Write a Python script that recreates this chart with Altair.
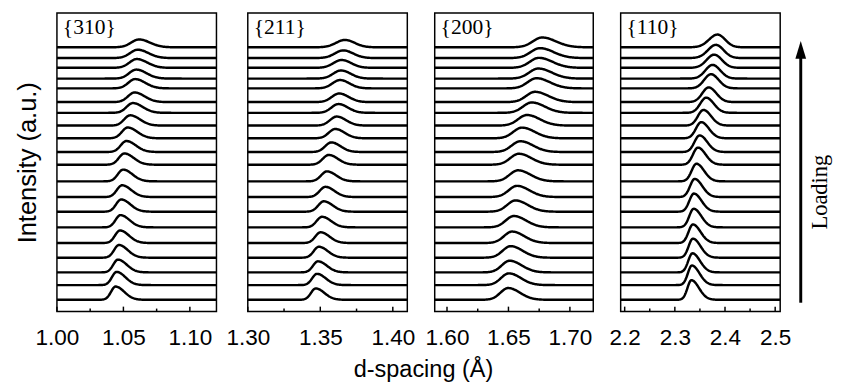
import altair as alt
import numpy as np
import pandas as pd

SANS = "Liberation Sans"
SERIF = "Liberation Serif"
H = 305

# vertical offset of each pattern (bottom -> top), in arbitrary intensity units
offsets = [12, 27, 40, 55, 70, 86, 102, 117, 133, 150, 163, 177, 190, 203, 214, 228, 238, 249, 259, 270]

# {310}
c310 = [1.0441, 1.0449, 1.0459, 1.0466, 1.0474, 1.0478, 1.0483, 1.0490, 1.0498, 1.0507,
        1.0522, 1.0532, 1.0551, 1.0571, 1.0584, 1.0588, 1.0596, 1.0601, 1.0608, 1.0618]
h310 = [13.5, 13.5, 13.0, 13.0, 12.8, 12.5, 12.5, 12.0, 12.0, 11.5,
        11.2, 11.0, 10.5, 10.0, 9.8, 9.5, 9.2, 9.0, 8.5, 8.0]
wl310 = [.0034, .0035, .0035, .0036, .0037, .0037, .0038, .0039, .0040, .0041,
         .0042, .0043, .0045, .0047, .0049, .0051, .0053, .0055, .0057, .0059]
wr310 = [.0065, .0065, .0066, .0066, .0067, .0067, .0068, .0068, .0069, .0070,
         .0071, .0072, .0073, .0074, .0075, .0076, .0077, .0078, .0079, .0081]

# {211}
c211 = [1.3468, 1.3477, 1.3484, 1.3490, 1.3502, 1.3512, 1.3524, 1.3535, 1.3546, 1.3558,
        1.3576, 1.3603, 1.3613, 1.3625, 1.3630, 1.3636, 1.3643, 1.3647, 1.3659, 1.3670]
h211 = [11.6, 11.5, 11.3, 11.2, 11.0, 10.8, 10.6, 10.4, 10.2, 10.0,
        9.8, 9.5, 9.2, 9.0, 8.8, 8.5, 8.3, 8.0, 7.8, 7.5]
wl211 = [.0032, .0033, .0034, .0035, .0036, .0037, .0038, .0039, .0040, .0041,
         .0042, .0044, .0046, .0048, .0050, .0052, .0054, .0056, .0058, .0061]
wr211 = [.0060, .0060, .0061, .0061, .0061, .0062, .0062, .0062, .0063, .0063,
         .0063, .0064, .0064, .0065, .0065, .0065, .0066, .0066, .0067, .0067]

# {200}
c200 = [1.6498, 1.6504, 1.6510, 1.6518, 1.6530, 1.6544, 1.6557, 1.6570, 1.6578, 1.6584,
        1.6597, 1.6610, 1.6650, 1.6690, 1.6717, 1.6729, 1.6743, 1.6748, 1.6756, 1.6775]
h200 = [12.0, 12.0, 11.9, 11.8, 11.7, 11.6, 11.5, 11.4, 11.3, 11.2,
        11.0, 10.9, 10.8, 10.6, 10.5, 10.4, 10.3, 10.2, 10.1, 10.0]
wl200 = [.0063, .0064, .0064, .0065, .0066, .0066, .0067, .0068, .0068, .0069,
         .0070, .0070, .0071, .0072, .0072, .0073, .0074, .0074, .0075, .0076]
wr200 = [.0095, .0096, .0097, .0097, .0098, .0099, .0100, .0100, .0101, .0102,
         .0103, .0104, .0105, .0106, .0107, .0108, .0109, .0110, .0111, .0112]

# {110}
c110 = [2.3330, 2.3340, 2.3350, 2.3360, 2.3360, 2.3376, 2.3380, 2.3396, 2.3430, 2.3460,
        2.3493, 2.3526, 2.3570, 2.3624, 2.3674, 2.3720, 2.3752, 2.3785, 2.3819, 2.3850]
h110 = [20.0, 20.0, 19.5, 19.5, 19.0, 19.0, 18.5, 18.5, 18.0, 17.5,
        17.0, 16.5, 16.0, 15.5, 15.0, 14.5, 14.0, 13.5, 13.5, 13.0]
wl110 = [.0078, .0080, .0082, .0084, .0086, .0088, .0090, .0092, .0095, .0098,
         .0101, .0105, .0110, .0118, .0126, .0134, .0142, .0150, .0158, .0168]
wr110 = [.0150, .0150, .0150, .0151, .0151, .0151, .0151, .0151, .0152, .0152,
         .0152, .0152, .0152, .0152, .0152, .0152, .0152, .0152, .0152, .0152]

labels = ["{310}", "{211}", "{200}", "{110}"]
domains = [[1.00, 1.12], [1.30, 1.41], [1.59, 1.719], [2.192, 2.51]]
major_ticks = [[1.00, 1.05, 1.10], [1.30, 1.35, 1.40], [1.60, 1.65, 1.70], [2.2, 2.3, 2.4, 2.5]]
minor_ticks = [[1.025, 1.075], [1.325, 1.375], [1.625, 1.675], [2.25, 2.35, 2.45]]
formats = [".2f", ".2f", ".2f", ".1f"]
widths = [163, 163, 162, 163]
params = [(c310, h310, wl310, wr310), (c211, h211, wl211, wr211),
          (c200, h200, wl200, wr200), (c110, h110, wl110, wr110)]


def build_df(domain, centers, heights, wl, wr):
    xs = np.linspace(domain[0], domain[1], 260)
    frames = []
    for i, (c, h, a, b) in enumerate(zip(centers, heights, wl, wr)):
        s = np.where(xs < c, a, b)
        ys = offsets[i] + h * np.exp(-0.5 * ((xs - c) / s) ** 2)
        frames.append(pd.DataFrame({"d": xs, "I": ys, "curve": i}))
    return pd.concat(frames, ignore_index=True)


def panel(k, first=False, extra=None):
    df = build_df(domains[k], *params[k])
    x = alt.X("d:Q",
              scale=alt.Scale(domain=domains[k], nice=False, zero=False),
              axis=alt.Axis(values=major_ticks[k], format=formats[k], title=None,
                            ticks=False, tickSize=0, domain=False, grid=False,
                            labelFont=SANS, labelFontSize=23, labelPadding=16,
                            labelColor="black", labelFlush=False))
    if first:
        yaxis = alt.Axis(title="Intensity (a.u.)", labels=False, ticks=False, domain=False,
                         grid=False, titleFont=SANS, titleFontSize=26,
                         titleFontWeight="normal", titleColor="black", titlePadding=17)
    else:
        yaxis = None
    y = alt.Y("I:Q", scale=alt.Scale(domain=[0, H], nice=False, zero=False), axis=yaxis)
    lines = alt.Chart(df).mark_line(color="black", strokeWidth=2.5, clip=True).encode(
        x=x, y=y, detail="curve:N")
    tmaj = alt.Chart(pd.DataFrame({"d": major_ticks[k]})).mark_rule(
        color="black", strokeWidth=1.5).encode(x=x, y=alt.value(H), y2=alt.value(H - 5))
    tmin = alt.Chart(pd.DataFrame({"d": minor_ticks[k]})).mark_rule(
        color="black", strokeWidth=1.5).encode(x=x, y=alt.value(H), y2=alt.value(H - 3))
    lab = alt.Chart(pd.DataFrame({"t": [labels[k]]})).mark_text(
        font=SERIF, fontSize=22, align="left", baseline="top", color="black").encode(
        text="t:N", x=alt.value(6), y=alt.value(4))
    layers = [lines, tmaj, tmin, lab]
    if extra:
        layers += extra
    return alt.layer(*layers).properties(width=widths[k], height=H)


one = pd.DataFrame({"t": ["Loading"]})
shaft = alt.Chart(one).mark_rule(color="black", strokeWidth=3).encode(
    x=alt.value(184), y=alt.value(296), y2=alt.value(44))
head = alt.Chart(one).mark_point(shape="M0,-1L-0.61,1L0.61,1Z", size=324, filled=True,
                                 color="black", opacity=1, strokeWidth=0).encode(
    x=alt.value(184), y=alt.value(37.6))
loading = alt.Chart(one).mark_text(font=SERIF, fontSize=23, angle=270, color="black",
                                   align="center", baseline="middle").encode(
    text="t:N", x=alt.value(204), y=alt.value(183))

p1 = panel(0, first=True)
p2 = panel(1)
p3 = panel(2)
p4 = panel(3, extra=[shaft, head, loading])

right = alt.hconcat(p2, p3, p4, spacing=28, bounds="flush")
chart = alt.hconcat(p1, right, spacing=32, bounds="flush").properties(
    title=alt.TitleParams(text="d-spacing (Å)", orient="bottom", anchor="middle",
                          font=SANS, fontSize=24, fontWeight="normal", color="black",
                          offset=8),
    padding={"left": 6, "top": 0, "right": 2, "bottom": 2},
).configure_view(stroke="black", strokeWidth=1.5)

chart.save("out.html", embed_options={"renderer": "svg", "actions": False})
